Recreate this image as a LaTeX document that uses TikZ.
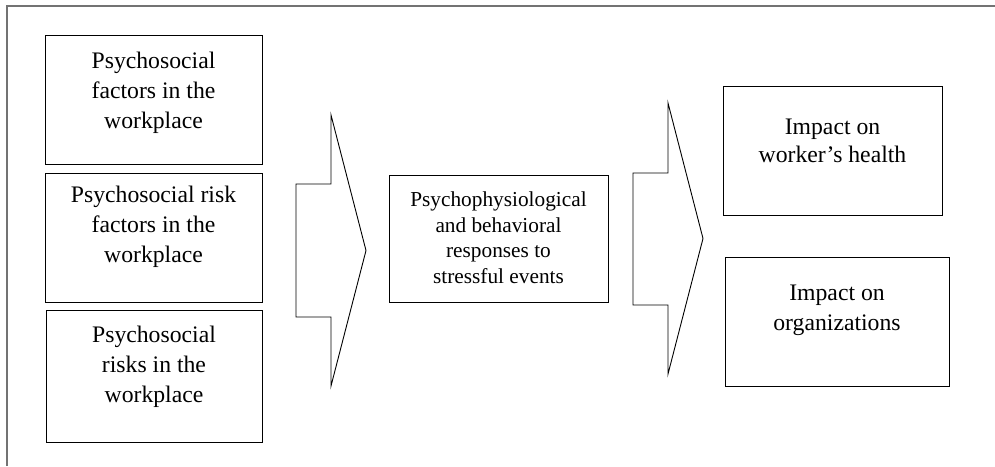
\documentclass[tikz,border=0pt]{standalone}
\usepackage{fontspec}
\setmainfont{Liberation Serif}
\begin{document}
\begin{tikzpicture}[x=1pt,y=-1pt,
  box/.style={draw, line width=1.2pt, inner sep=0pt, anchor=north west},
  txt/.style={align=center, inner sep=0pt, anchor=north, font=\fontsize{23.7}{30}\selectfont},
  txtmid/.style={align=center, inner sep=0pt, anchor=north, font=\fontsize{21.3}{25.7}\selectfont},
  blockarrow/.style={draw, line width=0.9pt, line join=miter, fill=white},
  frame/.style={draw=black!55, line width=1.2pt}]
\useasboundingbox (0,0) rectangle (995,466);
\draw[frame] (7,466) -- (7,6) -- (995,6);
% left boxes
\node[box, minimum width=217pt, minimum height=129pt] (b1) at (45,35) {};
\node[txt] (t1) at (153.5,51.8) {Psychosocial\\factors in the\\workplace};
\node[box, minimum width=217pt, minimum height=129pt] (b2) at (45,173) {};
\node[txt] (t2) at (153.5,185.5) {Psychosocial risk\\factors in the\\workplace};
\node[box, minimum width=216pt, minimum height=132pt] (b3) at (46,310) {};
\node[txt] (t3) at (154,325.5) {Psychosocial\\risks in the\\workplace};
% first block arrow
\draw[blockarrow] (296,184) -- (331,184) -- (331,115) -- (366,250.5) -- (331,386) -- (331,317) -- (296,317) -- cycle;
% middle box
\node[box, minimum width=219pt, minimum height=127pt] (m) at (389,175) {};
\node[txtmid] (tm) at (498.5,191.5) {Psychophysiological\\and behavioral\\responses to\\stressful events};
% second block arrow
\draw[blockarrow] (633,173) -- (668,173) -- (668,103) -- (703,238.5) -- (668,374) -- (668,305) -- (633,305) -- cycle;
% right boxes
\node[box, minimum width=219pt, minimum height=129pt] (r1) at (723,86) {};
\node[txt, font=\fontsize{23.7}{28}\selectfont] (tr1) at (832.5,118.3) {Impact on\\worker’s health};
\node[box, minimum width=224pt, minimum height=129pt] (r2) at (725,257) {};
\node[txt] (tr2) at (837,284.3) {Impact on\\organizations};
\end{tikzpicture}
\end{document}
